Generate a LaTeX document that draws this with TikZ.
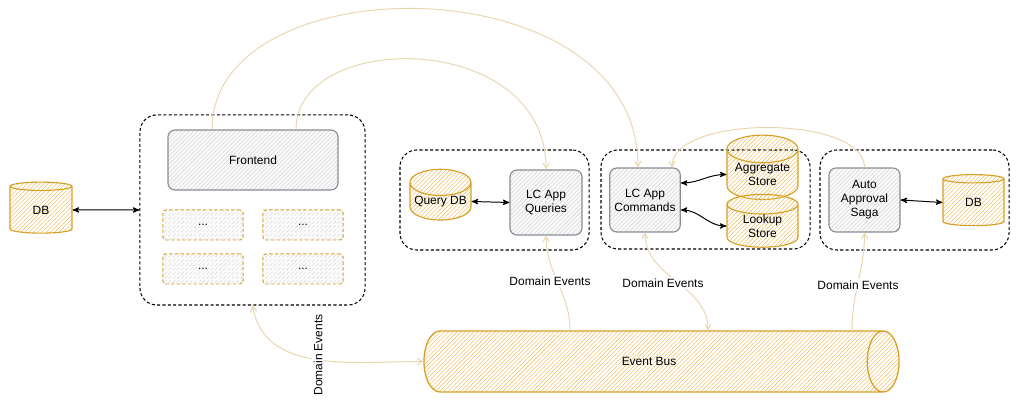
\documentclass[tikz,border=0pt]{standalone}
\usepackage{fontspec}
\setmainfont{Liberation Sans}
\usetikzlibrary{arrows}
\usetikzlibrary{calc}
\usetikzlibrary{patterns}
\usetikzlibrary{shapes.geometric}
\definecolor{ochre}{RGB}{214,160,40}
\definecolor{ochrehatch}{RGB}{238,200,115}
\definecolor{slate}{RGB}{134,142,150}
\definecolor{sand}{RGB}{233,214,176}
\tikzset{group/.style = {draw=black, dash pattern=on 2.2pt off 1.6pt, line width=0.75pt,
                         rounded corners=12pt},
         service/.style = {draw=slate, line width=0.8pt, rounded corners=5pt,
                           preaction={fill=gray!4}, pattern=north east lines,
                           pattern color=gray!30, align=center},
         slot/.style = {draw=ochre, dash pattern=on 2.5pt off 1.5pt, line width=0.7pt,
                        rounded corners=2pt, preaction={fill=gray!3},
                        pattern=north east lines, pattern color=gray!25,
                        minimum width=2cm, minimum height=0.75cm},
         store/.style = {cylinder, shape border rotate=90, aspect=0.5, draw=ochre,
                         line width=0.8pt, pattern=north east lines,
                         pattern color=ochrehatch, align=center, inner sep=0pt},
         link/.style = {<->, >=stealth', line width=0.7pt},
         flow/.style = {draw=sand, line width=0.7pt, >=angle 60},
         tag/.style = {fill=white, inner sep=1pt}}

\begin{document}
\begin{tikzpicture}[x=0.025cm, y=0.025cm, font=\fontsize{8.5}{10}\selectfont]
  \useasboundingbox (0, 0) rectangle (1021, 405);
  % frontend side
  \node [store, minimum width=1.55cm, minimum height=1.275cm] (leftdb) at (41, 195) {DB};
  \node [group, minimum width=5.625cm, minimum height=4.75cm] (webapp) at (252.5, 195) {};
  \node [service, minimum width=4.25cm, minimum height=1.5cm] (frontend) at (253, 245) {Frontend};
  \node [slot] (slota) at (203, 180) {...};
  \node [slot] (slotb) at (303, 180) {...};
  \node [slot] (slotc) at (203, 136) {...};
  \node [slot] (slotd) at (303, 136) {...};
  % queries
  \node [group, minimum width=4.725cm, minimum height=2.5cm] (querygrp) at (494.5, 205) {};
  \node [store, minimum width=1.525cm, minimum height=1.225cm] (querydb) at (440.5, 203.5) {Query DB};
  \node [service, minimum width=1.8cm, minimum height=1.625cm] (queries) at (546, 202.5) {LC App\\Queries};
  % commands
  \node [group, minimum width=5.225cm, minimum height=2.475cm] (cmdgrp) at (705.5, 205.5) {};
  \node [service, minimum width=1.75cm, minimum height=1.6cm] (commands) at (645, 205) {LC App\\Commands};
  \node [store, minimum width=1.775cm, minimum height=0.925cm] (aggregate) at (762.5, 230.5) {Aggregate\\Store};
  \node [store, minimum width=1.775cm, minimum height=0.925cm] (lookup) at (762.5, 179) {Lookup\\Store};
  % saga
  \node [group, minimum width=4.725cm, minimum height=2.5cm] (sagagrp) at (914.5, 205) {};
  \node [service, minimum width=1.775cm, minimum height=1.6cm] (saga) at (864.5, 205) {Auto\\Approval\\Saga};
  \node [store, minimum width=1.525cm, minimum height=1.275cm] (sagadb) at (973.5, 202.5) {DB};
  % bus
  \node [cylinder, aspect=1.8, draw=ochre, line width=0.9pt, pattern=north east lines,
         pattern color=ochrehatch, minimum height=11.875cm, minimum width=1.525cm]
        (bus) at (649, 43.5) {Event Bus};

  \coordinate (busq) at ($(bus.north) + (-79, 0)$);
  \coordinate (busc) at ($(bus.north) + (59, 0)$);
  \coordinate (buss) at ($(bus.north) + (203, 0)$);
  \coordinate (fel) at ($(frontend.north) + (-41, 0)$);
  \coordinate (fer) at ($(frontend.north) + (43, 0)$);
  \coordinate (cmdl) at ($(commands.north) + (-7, 0)$);
  \coordinate (cmdr) at ($(commands.north) + (27, 0)$);

  \draw [link] (leftdb.east) -- (webapp.west);
  \draw [link] (querydb.east) -- (queries.west);
  \draw [link] ($(commands.east) + (0, 17)$) to [out=0, in=180] (aggregate.west);
  \draw [link] ($(commands.east) + (0, -10)$) to [out=0, in=180] (lookup.west);
  \draw [link] (saga.east) -- (sagadb.west);

  \draw [flow, ->] (busq) to [out=90, in=-90] (queries.south);
  \draw [flow, <->] (commands.south) to [out=-90, in=90] (busc);
  \draw [flow, ->] (buss) to [out=90, in=-90] (saga.south);
  \draw [flow, <->] (webapp.south) to [out=-80, in=180] (bus.west);
  \draw [flow, ->] (fel) .. controls +(0, 167) and +(0, 205) .. (cmdl);
  \draw [flow, ->] (fer) .. controls +(0, 100) and +(0, 140) .. (queries.north);
  \draw [flow, ->] (saga.north) .. controls +(0, 53) and +(0, 53) .. (cmdr);

  \node [tag] (deq) at (550, 124) {Domain Events};
  \node [tag] (dec) at (663, 122) {Domain Events};
  \node [tag] (des) at (858, 120) {Domain Events};
  \node [tag, rotate=90] (dew) at (318, 50) {Domain Events};
\end{tikzpicture}
\end{document}
